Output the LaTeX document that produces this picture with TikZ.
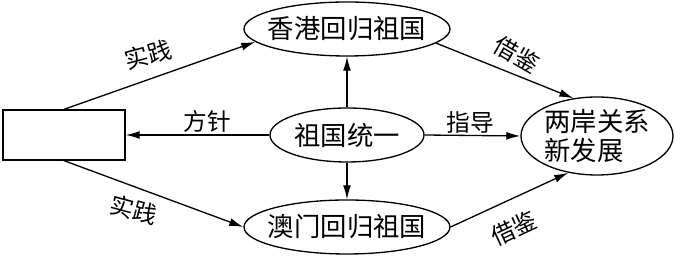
\documentclass[tikz,border=0pt]{standalone}
\usepackage{fontspec}
\setmainfont{Noto Sans CJK SC}
\usetikzlibrary{shapes.geometric, arrows.meta}

\tikzset{
  ell/.style={draw, ellipse, line width=0.75pt, inner sep=0pt, minimum height=1.08cm, font=\fontsize{15pt}{16pt}\selectfont},
  box/.style={draw, rectangle, line width=0.75pt, minimum width=2.44cm, minimum height=1.0cm},
  lbl/.style={font=\fontsize{13.5pt}{15pt}\selectfont, inner sep=0pt},
  arr/.style={line width=0.75pt, -{Latex[length=8pt, width=4.5pt]}}
}

\begin{document}
\begin{tikzpicture}
  \useasboundingbox (0,0) rectangle (13.5,5.12);

  % Main blocks
  \node[box] (blank) at (1.28,2.42) {};
  \node[ell, inner xsep=-3.7pt, minimum width=4.12cm] (hk) at (6.94,4.54) {香港回归祖国};
  \node[ell, minimum width=3.08cm] (unify) at (6.94,2.42) {祖国统一};
  \node[ell, inner xsep=-3.7pt, minimum width=4.12cm] (macau) at (6.94,0.58) {澳门回归祖国};
  \node[ell, align=left, minimum width=3.04cm, minimum height=1.56cm] (cross) at (11.94,2.40) {两岸关系\\新发展};

  % Arrows
  \draw[arr] (blank.north) -- (hk.188);
  \draw[arr] (blank.south) -- (macau.west);
  \draw[arr] (unify.west) -- (blank.east);
  \draw[arr] (unify.north) -- (hk.south);
  \draw[arr] (unify.south) -- (macau.north);
  \draw[arr] (unify.east) -- (cross.west);
  \draw[arr] (hk.-9) -- (cross.122);
  \draw[arr] (macau.east) -- (cross.232);

  % Labels
  \node[lbl, rotate=15] (practice1) at (2.96,4.02) {实践};
  \node[lbl, rotate=-15] (practice2) at (2.68,0.92) {实践};
  \node[lbl] (policy) at (4.14,2.70) {方针};
  \node[lbl] (guide) at (9.40,2.68) {指导};
  \node[lbl, rotate=-30] (learn1) at (10.34,4.02) {借鉴};
  \node[lbl, rotate=25] (learn2) at (10.28,0.56) {借鉴};
\end{tikzpicture}
\end{document}
